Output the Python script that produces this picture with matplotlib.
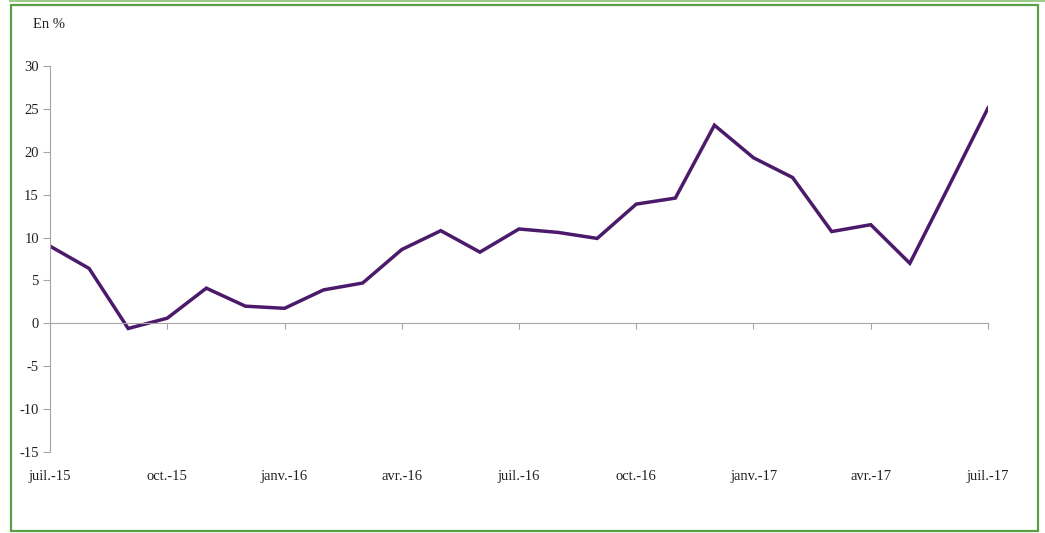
import matplotlib.pyplot as plt
from matplotlib.patches import Rectangle
import numpy as np

# monthly series, juil.-15 .. juil.-17
months = ['juil.-15', 'août-15', 'sept.-15', 'oct.-15', 'nov.-15', 'déc.-15',
          'janv.-16', 'févr.-16', 'mars-16', 'avr.-16', 'mai-16', 'juin-16',
          'juil.-16', 'août-16', 'sept.-16', 'oct.-16', 'nov.-16', 'déc.-16',
          'janv.-17', 'févr.-17', 'mars-17', 'avr.-17', 'mai-17', 'juin-17',
          'juil.-17']
values = [9.0, 6.4, -0.6, 0.6, 4.1, 2.0,
          1.75, 3.9, 4.7, 8.6, 10.8, 8.3,
          11.0, 10.6, 9.9, 13.9, 14.6, 23.1,
          19.3, 17.0, 10.7, 11.5, 7.0, 16.0,
          25.1]
yticks = [-15, -10, -5, 0, 5, 10, 15, 20, 25, 30]

plt.rcParams['font.family'] = ['Liberation Serif', 'DejaVu Serif']

fig = plt.figure(figsize=(10.45, 5.33), dpi=100)
ax = fig.add_axes([50 / 1045, 1 - 452 / 533, 938 / 1045, 386 / 533])

x = np.arange(len(months))
ax.plot(x, values, color='#4b1a6b', linewidth=2.5, solid_joinstyle='miter')

ax.set_xlim(0, len(months) - 1)
ax.set_ylim(-15, 30)
ax.set_yticks(yticks)
ax.set_yticklabels([str(v) for v in yticks], fontsize=10.5, color='#222222')

gray = '#a6a6a6'
for s in ['top', 'right']:
    ax.spines[s].set_visible(False)
ax.spines['left'].set_color(gray)
ax.spines['bottom'].set_color(gray)
ax.spines['bottom'].set_position(('data', 0))
ax.tick_params(axis='y', length=5, color=gray, pad=3)

# ticks on the zero line every 3 months, labels at the bottom
ax.set_xticks(x[::3])
ax.tick_params(axis='x', length=4, color=gray, labelbottom=False)
sec = ax.secondary_xaxis('bottom')
sec.set_xticks(x[::3])
sec.set_xticklabels(months[::3], fontsize=10.5, color='#222222')
sec.tick_params(length=0, pad=13)
sec.spines['bottom'].set_visible(False)

fig.text(33 / 1045, 1 - 24 / 533, 'En %', fontsize=10.5, color='#222222', va='center')

# green frame
fig.add_artist(Rectangle((11 / 1045, 1 - 531 / 533), 1027 / 1045, 526 / 533,
                         transform=fig.transFigure, fill=False,
                         edgecolor='#5a9e46', linewidth=1.6))
fig.add_artist(plt.Line2D([10 / 1045, 1], [1 - 1 / 533, 1 - 1 / 533],
                          transform=fig.transFigure, color='#9dcb8a', linewidth=1.5))

fig.savefig('out.png', dpi=100)
